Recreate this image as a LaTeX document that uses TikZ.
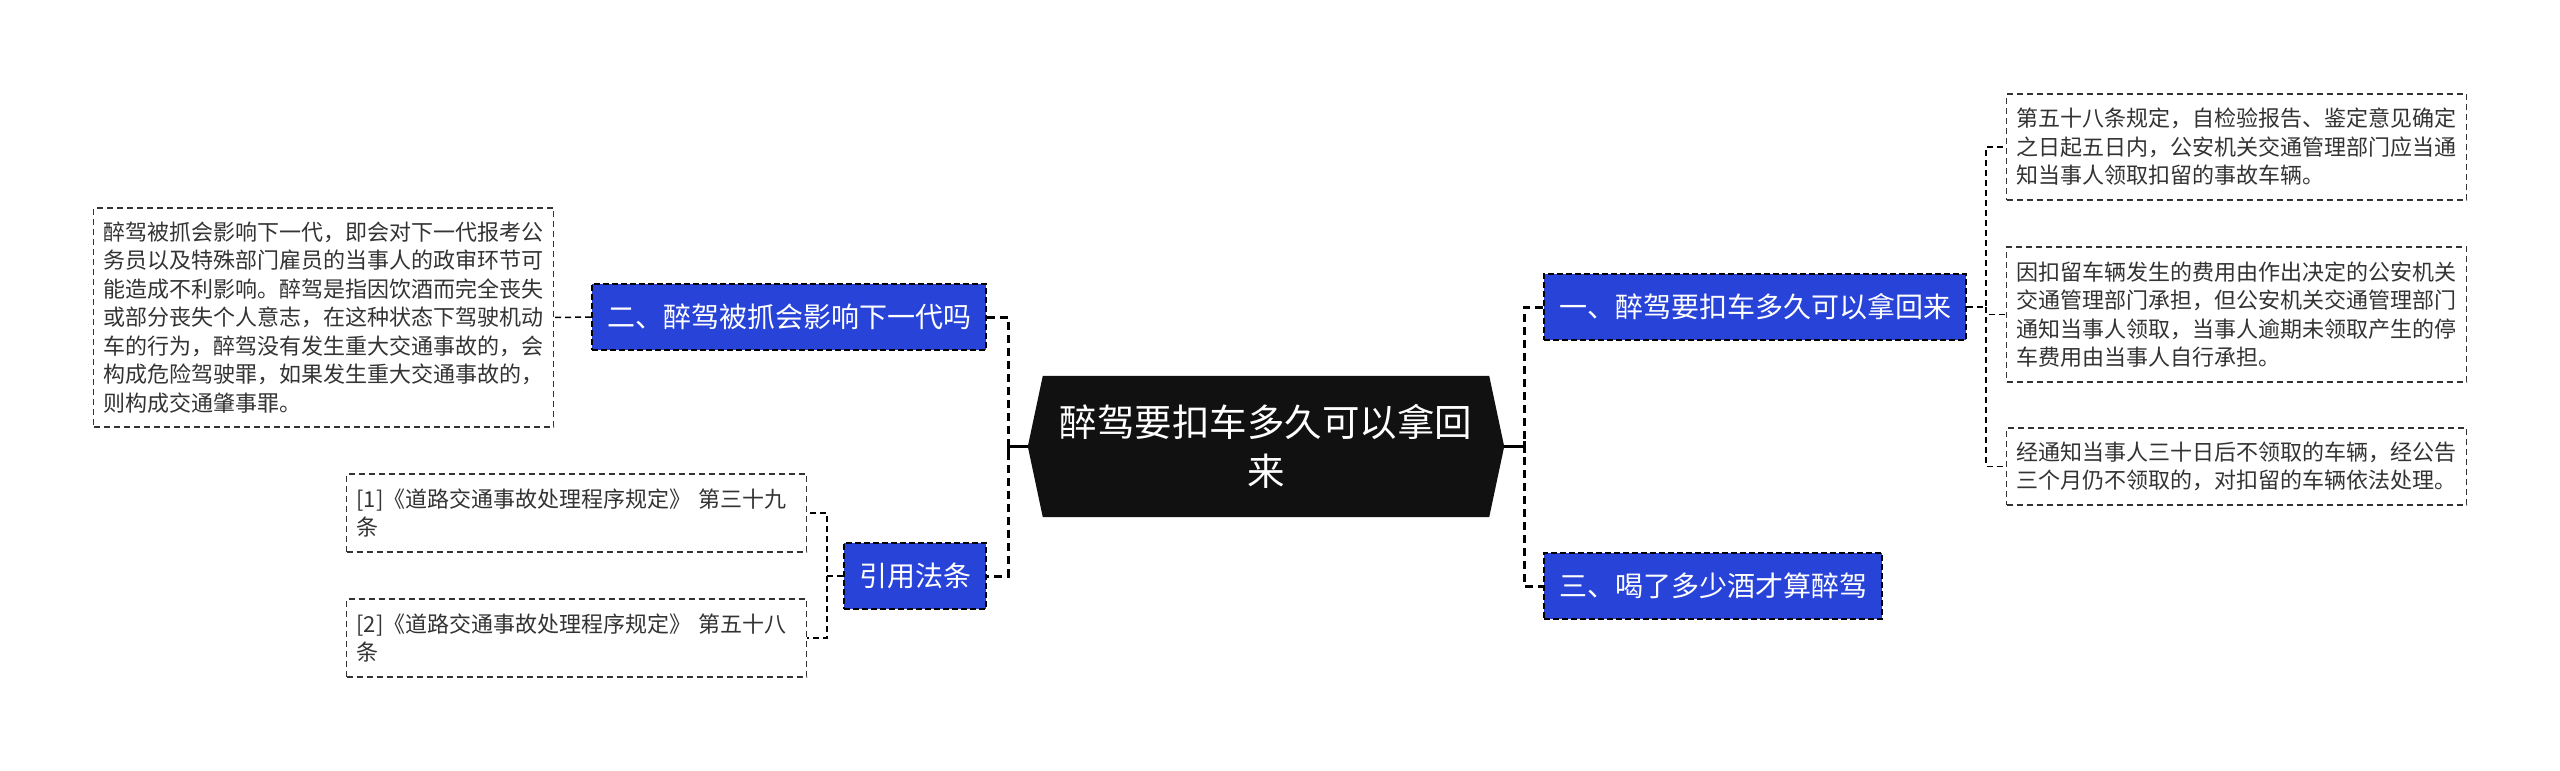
\documentclass[tikz,border=0pt]{standalone}
\usepackage{fontspec}
\newfontfamily\cjk{Noto Sans CJK SC}
\usetikzlibrary{backgrounds}
\definecolor{nodeblue}{RGB}{40,67,216}
\definecolor{leafgray}{RGB}{51,51,51}
\definecolor{rootblack}{RGB}{17,17,17}
\begin{document}
\begin{tikzpicture}[x=1pt,y=-1pt,
  rootnode/.style={text=white, font=\cjk\fontsize{37.5pt}{49pt}\selectfont, align=center,
    minimum width=476pt, minimum height=141pt, inner sep=0pt},
  bluenode/.style={fill=nodeblue, draw=black, line width=2pt, dash pattern=on 6pt off 3pt,
    text=white, font=\cjk\fontsize{28pt}{34pt}\selectfont, inner xsep=15pt, inner ysep=0pt,
    minimum height=66pt},
  leafnode/.style={draw=leafgray, line width=1.5pt, dash pattern=on 6pt off 4pt,
    text=leafgray, font=\cjk\fontsize{22pt}{28.5pt}\selectfont, text width=440pt,
    align=left, inner xsep=10pt, inner ysep=0pt},
  mainline/.style={draw=black, line width=3pt, dash pattern=on 8pt off 5pt},
  solidline/.style={draw=black, line width=3pt},
  leafline/.style={draw=black, line width=1.5pt, dash pattern=on 6pt off 4pt}
]
\useasboundingbox (0,0) rectangle (2560,771);
\begin{scope}[on background layer]
  \fill[white] (0,0) rectangle (2560,771);
\end{scope}

% root
\node[rootnode] (c) at (1266,446.5) {醉驾要扣车多久可以拿回\\来};
\begin{scope}[on background layer]
  \fill[rootblack] (c.west) -- ([xshift=15pt]c.north west) -- ([xshift=-15pt]c.north east)
    -- (c.east) -- ([xshift=-15pt]c.south east) -- ([xshift=15pt]c.south west) -- cycle;
\end{scope}

% level 1
\node[bluenode, anchor=west] (b1) at (1543,307) {一、醉驾要扣车多久可以拿回来};
\node[bluenode, anchor=west] (b3) at (1543,586) {三、喝了多少酒才算醉驾};
\node[bluenode, anchor=east] (b2) at (987,317) {二、醉驾被抓会影响下一代吗};
\node[bluenode, anchor=east] (b4) at (987,576) {引用法条};

% leaves right
\node[leafnode, minimum height=106pt] (la) at (2236.5,147) {第五十八条规定，自检验报告、鉴定意见确定\\之日起五日内，公安机关交通管理部门应当通\\知当事人领取扣留的事故车辆。};
\node[leafnode, minimum height=135pt] (lb) at (2236.5,314.5) {因扣留车辆发生的费用由作出决定的公安机关\\交通管理部门承担，但公安机关交通管理部门\\通知当事人领取，当事人逾期未领取产生的停\\车费用由当事人自行承担。};
\node[leafnode, minimum height=77pt] (lc) at (2236.5,466.5) {经通知当事人三十日后不领取的车辆，经公告\\三个月仍不领取的，对扣留的车辆依法处理。};

% leaves left
\node[leafnode, minimum height=219pt] (ll) at (323.5,317.5) {醉驾被抓会影响下一代，即会对下一代报考公\\务员以及特殊部门雇员的当事人的政审环节可\\能造成不利影响。醉驾是指因饮酒而完全丧失\\或部分丧失个人意志，在这种状态下驾驶机动\\车的行为，醉驾没有发生重大交通事故的，会\\构成危险驾驶罪，如果发生重大交通事故的，\\则构成交通肇事罪。};
\node[leafnode, minimum height=78pt] (lg1) at (576.5,513) {[1]《道路交通事故处理程序规定》 第三十九\\条};
\node[leafnode, minimum height=78pt] (lg2) at (576.5,638) {[2]《道路交通事故处理程序规定》 第五十八\\条};

% main connectors
\coordinate (jl) at (1008,446.5);
\coordinate (jr) at (1524,446.5);
\draw[solidline] (c.west) -- (jl);
\draw[solidline] ([yshift=-6pt]jl) -- ([yshift=6pt]jl);
\draw[mainline] (b2.east) -| (jl) |- (b4.east);
\draw[solidline] (c.east) -- (jr);
\draw[solidline] ([yshift=-6pt]jr) -- ([yshift=6pt]jr);
\draw[mainline] (b1.west) -| (jr) |- (b3.west);

% leaf connectors
\coordinate (rj) at (1986,307);
\draw[leafline] (b1.east) -- (rj) |- (la.west);
\draw[leafline] (rj) |- (lb.west);
\draw[leafline] (rj) |- (lc.west);
\draw[leafline] (b2.west) -- (ll.east);
\coordinate (gj) at (827,576);
\draw[leafline] (b4.west) -- (gj) |- (lg1.east);
\draw[leafline] (gj) |- (lg2.east);
\end{tikzpicture}
\end{document}
